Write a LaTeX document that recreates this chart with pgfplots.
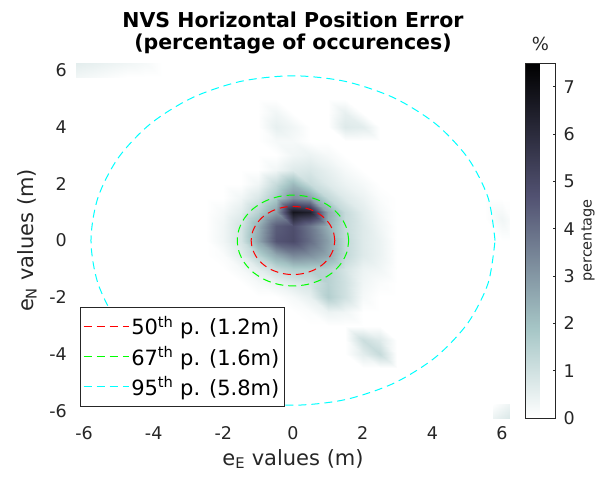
\documentclass[border=0pt]{standalone}
\usepackage{fontspec}
\setmainfont{DejaVu Sans}
\usepackage{pgfplots}
\pgfplotsset{compat=1.18}
\definecolor{axgray}{rgb}{0.15,0.15,0.15}
\definecolor{mred}{rgb}{1,0,0}
\definecolor{mgreen}{rgb}{0,1,0}
\definecolor{mcyan}{rgb}{0,1,1}
\begin{document}
\begin{tikzpicture}
\path[use as bounding box] (-75.3pt,-59pt) rectangle (528.7pt,418pt);
\begin{axis}[
  at={(0pt,0pt)}, anchor=south west,
  scale only axis, width=435.4pt, height=355pt,
  view={0}{90},
  xmin=-6.25, xmax=6.25, ymin=-6.25, ymax=6.25,
  enlargelimits=false,
  xtick={-6,-4,...,6}, ytick={-6,-4,...,6}, ztick=\empty,
  axis line style={draw=none}, major tick length=0pt,
  /pgf/number format/assume math mode=true,
  tick label style={font=\fontsize{17.5}{21}\selectfont, text=axgray},
  xticklabel style={anchor=north, inner ysep=8.2pt},
  yticklabel style={anchor=east, inner xsep=8.3pt},
  label style={font=\fontsize{21}{25}\selectfont, text=axgray},
  xlabel={e\textsubscript{E} values (m)},
  ylabel={e\textsubscript{N} values (m)},
  xlabel style={at={(axis description cs:0.5,-0.1324)}, anchor=base},
  ylabel style={at={(axis description cs:-0.0971,0.5)}, anchor=base},
  title={NVS Horizontal Position Error\\(percentage of occurences)},
  title style={font=\fontsize{20.5}{22.5}\selectfont\bfseries, align=center,
    at={(axis description cs:0.5,1.128)}, anchor=north, inner sep=0pt},
  colormap={bonerev}{rgb(0pt)=(1,1,1); rgb(2pt)=(0.6528,0.7778,0.7778); rgb(5pt)=(0.3194,0.3194,0.4444); rgb(8pt)=(0,0,0)},
  point meta min=0, point meta max=7.5,
  colorbar,
  colorbar style={
    at={(parent axis.north east)}, anchor=north west, xshift=6.3pt,
    scale only axis, width=30pt, height=355pt,
    ytick={0,1,...,7},
    /pgf/number format/assume math mode=true,
    axis line style={draw=axgray, line width=0.5pt},
    tick style={draw=axgray, line width=0.5pt},
    ytick pos=right, tick align=inside, major tick length=3pt,
    yticklabel pos=right,
    yticklabel style={font=\fontsize{17.5}{21}\selectfont, text=axgray, anchor=west, inner xsep=8pt},
    ylabel={percentage},
    ylabel style={font=\fontsize{14.5}{17}\selectfont, text=axgray,
      at={(axis description cs:2.2,0.5)}, anchor=base},
    title={\%},
    title style={font=\fontsize{18}{21}\selectfont, text=axgray,
      at={(axis description cs:0.5,1)}, anchor=base, inner sep=0pt, yshift=7pt},
  },
  legend style={at={(axis description cs:0,0)}, anchor=south west,
    xshift=4.7pt, yshift=12pt, draw=axgray, line width=0.5pt, fill=white,
    font=\fontsize{21}{25}\selectfont, text=black,
    inner xsep=3pt, inner ysep=7pt, row sep=6pt,
    nodes={inner sep=2pt}},
  legend cell align=left,
  legend image code/.code={\draw[#1, line width=1pt] (0pt,0pt) -- (45pt,0pt);},
]
% central density
\addplot3[surf, shader=interp, forget plot] table {
x y z
-2.5 -3 0
-2 -3 0
-1.5 -3 0
-1 -3 0
-0.5 -3 0
0 -3 0
0.5 -3 0
1 -3 0
1.5 -3 0
2 -3 0
2.5 -3 0
3 -3 0

-2.5 -2.5 0
-2 -2.5 0
-1.5 -2.5 0
-1 -2.5 0
-0.5 -2.5 0
0 -2.5 0
0.5 -2.5 0.1
1 -2.5 0.4
1.5 -2.5 0.3
2 -2.5 0
2.5 -2.5 0
3 -2.5 0

-2.5 -2 0
-2 -2 0
-1.5 -2 0
-1 -2 0
-0.5 -2 0
0 -2 0.2
0.5 -2 0.5
1 -2 1.6
1.5 -2 1.0
2 -2 0.2
2.5 -2 0
3 -2 0

-2.5 -1.5 0
-2 -1.5 0
-1.5 -1.5 0
-1 -1.5 0.2
-0.5 -1.5 0.4
0 -1.5 0.7
0.5 -1.5 0.9
1 -1.5 1.5
1.5 -1.5 1.0
2 -1.5 0.3
2.5 -1.5 0.1
3 -1.5 0

-2.5 -1 0
-2 -1 0
-1.5 -1 0.2
-1 -1 0.6
-0.5 -1 1.2
0 -1 1.6
0.5 -1 1.6
1 -1 1.5
1.5 -1 0.9
2 -1 0.4
2.5 -1 0.3
3 -1 0

-2.5 -0.5 0
-2 -0.5 0.1
-1.5 -0.5 0.6
-1 -0.5 1.5
-0.5 -0.5 2.6
0 -0.5 3.4
0.5 -0.5 3.2
1 -0.5 2.6
1.5 -0.5 1.3
2 -0.5 0.7
2.5 -0.5 0.4
3 -0.5 0

-2.5 0 0
-2 0 0.3
-1.5 0 0.9
-1 0 2.6
-0.5 0 4.6
0 0 4.9
0.5 0 4.0
1 0 2.8
1.5 0 1.3
2 0 0.7
2.5 0 0.4
3 0 0

-2.5 0.5 0
-2 0.5 0.3
-1.5 0.5 0.9
-1 0.5 2.4
-0.5 0.5 4.4
0 0.5 4.8
0.5 0.5 3.8
1 0.5 2.4
1.5 0.5 1.2
2 0.5 0.7
2.5 0.5 0.3
3 0.5 0

-2.5 1 0
-2 1 0.2
-1.5 1 0.6
-1 1 1.5
-0.5 1 2.8
0 1 6.8
0.5 1 6.4
1 1 2.6
1.5 1 1.2
2 1 0.6
2.5 1 0.2
3 1 0

-2.5 1.5 0
-2 1.5 0
-1.5 1.5 0.3
-1 1.5 0.8
-0.5 1.5 1.8
0 1.5 3.2
0.5 1.5 2.8
1 1.5 1.3
1.5 1.5 0.7
2 1.5 0.4
2.5 1.5 0.1
3 1.5 0

-2.5 2 0
-2 2 0
-1.5 2 0
-1 2 0.3
-0.5 2 1.2
0 2 2.2
0.5 2 1.2
1 2 0.7
1.5 2 0.4
2 2 0.2
2.5 2 0
3 2 0

-2.5 2.5 0
-2 2.5 0
-1.5 2.5 0
-1 2.5 0
-0.5 2.5 0.3
0 2.5 0.7
0.5 2.5 0.8
1 2.5 0.5
1.5 2.5 0.2
2 2.5 0
2.5 2.5 0
3 2.5 0

-2.5 3 0
-2 3 0
-1.5 3 0
-1 3 0
-0.5 3 0
0 3 0.3
0.5 3 0.4
1 3 0.2
1.5 3 0
2 3 0
2.5 3 0
3 3 0

-2.5 3.5 0
-2 3.5 0
-1.5 3.5 0
-1 3.5 0
-0.5 3.5 0.2
0 3.5 0.2
0.5 3.5 0
1 3.5 0
1.5 3.5 0
2 3.5 0
2.5 3.5 0
3 3.5 0

-2.5 4 0
-2 4 0
-1.5 4 0
-1 4 0
-0.5 4 0.5
0 4 0.3
0.5 4 0
1 4 0
1.5 4 0.7
2 4 0.6
2.5 4 0
3 4 0

-2.5 4.5 0
-2 4.5 0
-1.5 4.5 0
-1 4.5 0
-0.5 4.5 0.3
0 4.5 0
0.5 4.5 0
1 4.5 0
1.5 4.5 0.5
2 4.5 0
2.5 4.5 0
3 4.5 0

-2.5 5 0
-2 5 0
-1.5 5 0
-1 5 0
-0.5 5 0
0 5 0
0.5 5 0
1 5 0
1.5 5 0
2 5 0
2.5 5 0
3 5 0
};
% lower right blob
\addplot3[surf, shader=interp, forget plot] table {
x y z
1.5 -4.5 0
2 -4.5 0
2.5 -4.5 0
3 -4.5 0

1.5 -4 0
2 -4 0.6
2.5 -4 1.2
3 -4 0

1.5 -3.5 0
2 -3.5 1.1
2.5 -3.5 0.7
3 -3.5 0

1.5 -3 0
2 -3 0
2.5 -3 0
3 -3 0
};
% top left corner
\addplot3[surf, shader=interp, forget plot] table {
x y z
-6.25 5.75 0.3
-5.75 5.75 0.2
-5.25 5.75 0.1
-4.75 5.75 0
-4.25 5.75 0
-3.75 5.75 0

-6.25 6.25 0.6
-5.75 6.25 0.5
-5.25 6.25 0.4
-4.75 6.25 0.3
-4.25 6.25 0.2
-3.75 6.25 0
};
% bottom right corner
\addplot3[surf, shader=interp, forget plot] table {
x y z
5.75 -6.25 0.4
6.25 -6.25 0.8

5.75 -5.75 0
6.25 -5.75 0.4
};
% right edge
\addplot3[surf, shader=interp, forget plot] table {
x y z
5.5 0 0
6 0 0
6.25 0 0

5.5 0.75 0
6 0.75 0.3
6.25 0.75 0.1

5.5 1.5 0
6 1.5 0
6.25 1.5 0
};
% percentile circles
\addplot3[mred, line width=1pt, dash pattern=on 8pt off 5pt, smooth] table[x=x, y=y, z expr=0] {
x y
1.2 0
1.1591 0.3106
1.0392 0.6
0.8485 0.8485
0.6 1.0392
0.3106 1.1591
0 1.2
-0.3106 1.1591
-0.6 1.0392
-0.8485 0.8485
-1.0392 0.6
-1.1591 0.3106
-1.2 0
-1.1591 -0.3106
-1.0392 -0.6
-0.8485 -0.8485
-0.6 -1.0392
-0.3106 -1.1591
0 -1.2
0.3106 -1.1591
0.6 -1.0392
0.8485 -0.8485
1.0392 -0.6
1.1591 -0.3106
1.2 0
};
\addlegendentry{50\textsuperscript{th} p. (1.2m)}
\addplot3[mgreen, line width=1pt, dash pattern=on 8pt off 5pt, smooth] table[x=x, y=y, z expr=0] {
x y
1.6 0
1.5455 0.4141
1.3856 0.8
1.1314 1.1314
0.8 1.3856
0.4141 1.5455
0 1.6
-0.4141 1.5455
-0.8 1.3856
-1.1314 1.1314
-1.3856 0.8
-1.5455 0.4141
-1.6 0
-1.5455 -0.4141
-1.3856 -0.8
-1.1314 -1.1314
-0.8 -1.3856
-0.4141 -1.5455
0 -1.6
0.4141 -1.5455
0.8 -1.3856
1.1314 -1.1314
1.3856 -0.8
1.5455 -0.4141
1.6 0
};
\addlegendentry{67\textsuperscript{th} p. (1.6m)}
\addplot3[mcyan, line width=1pt, dash pattern=on 8pt off 5pt, smooth] table[x=x, y=y, z expr=0] {
x y
5.8 0
5.6024 1.5011
5.0229 2.9
4.1012 4.1012
2.9 5.0229
1.5011 5.6024
0 5.8
-1.5011 5.6024
-2.9 5.0229
-4.1012 4.1012
-5.0229 2.9
-5.6024 1.5011
-5.8 0
-5.6024 -1.5011
-5.0229 -2.9
-4.1012 -4.1012
-2.9 -5.0229
-1.5011 -5.6024
0 -5.8
1.5011 -5.6024
2.9 -5.0229
4.1012 -4.1012
5.0229 -2.9
5.6024 -1.5011
5.8 0
};
\addlegendentry{95\textsuperscript{th} p. (5.8m)}
\end{axis}
\end{tikzpicture}
\end{document}
